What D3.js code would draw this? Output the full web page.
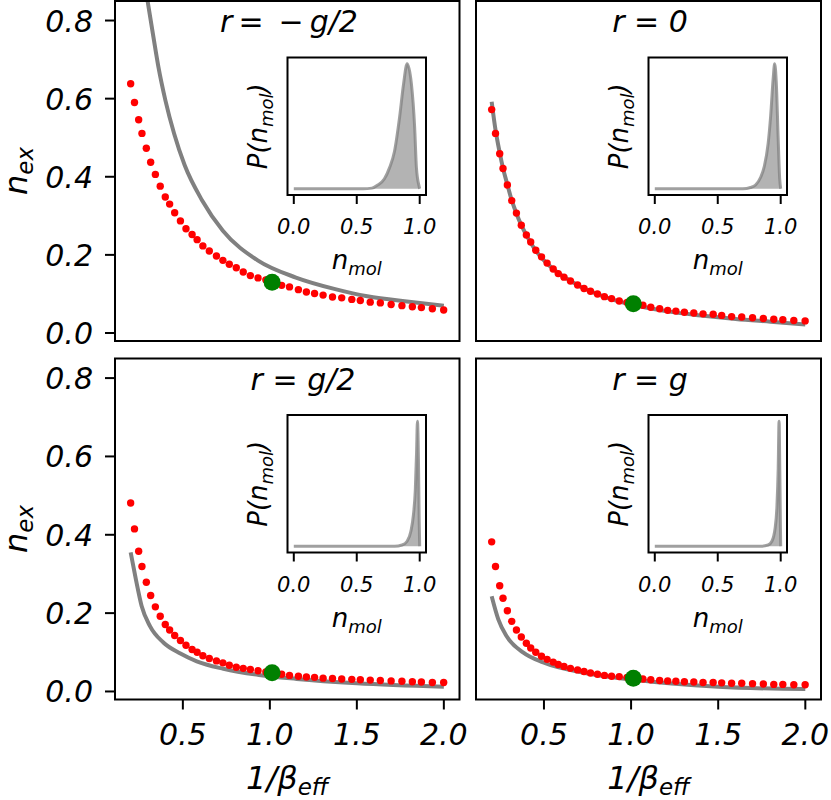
<!DOCTYPE html>
<html><head><meta charset="utf-8">
<script src="https://cdn.jsdelivr.net/npm/d3@7"></script>
<style>
body{margin:0;background:#fff}
svg{display:block}
text{font-family:"DejaVu Sans";font-style:italic;fill:#000}
</style>
</head><body><svg id="c" width="831" height="800"></svg>
<script>
// ---------------- data ----------------
const betaInv = [0.200,0.222,0.246,0.265,0.290,0.315,0.342,0.370,0.399,0.424,0.453,0.486,0.518,0.553,0.582,0.615,0.652,0.693,0.730,0.767,0.807,0.847,0.888,0.932,0.977,1.022,1.068,1.113,1.164,1.210,1.257,1.306,1.360,1.413,1.471,1.520,1.577,1.635,1.697,1.759,1.819,1.871,1.934,1.999];

const nexMinusHalf = [0.638,0.590,0.546,0.511,0.473,0.437,0.406,0.376,0.348,0.330,0.308,0.287,0.267,0.252,0.239,0.223,0.210,0.197,0.186,0.176,0.167,0.156,0.147,0.141,0.136,0.131,0.122,0.118,0.111,0.105,0.101,0.097,0.092,0.090,0.086,0.083,0.079,0.077,0.073,0.070,0.067,0.065,0.062,0.059];
const nexZero = [0.572,0.511,0.459,0.421,0.379,0.339,0.307,0.276,0.251,0.233,0.212,0.195,0.179,0.164,0.152,0.143,0.133,0.123,0.114,0.107,0.100,0.093,0.088,0.082,0.078,0.075,0.071,0.066,0.062,0.058,0.056,0.053,0.051,0.049,0.048,0.045,0.042,0.041,0.039,0.037,0.035,0.034,0.032,0.031];
const nexHalf = [0.481,0.415,0.358,0.319,0.279,0.245,0.216,0.192,0.171,0.157,0.143,0.130,0.118,0.107,0.100,0.091,0.084,0.078,0.073,0.067,0.062,0.059,0.056,0.053,0.050,0.047,0.044,0.041,0.039,0.037,0.036,0.034,0.033,0.032,0.031,0.030,0.029,0.028,0.027,0.026,0.025,0.024,0.023,0.023];
const nexG = [0.382,0.319,0.270,0.238,0.206,0.179,0.157,0.139,0.123,0.111,0.100,0.090,0.082,0.075,0.069,0.064,0.059,0.055,0.051,0.047,0.044,0.041,0.039,0.038,0.036,0.034,0.032,0.030,0.028,0.027,0.026,0.025,0.024,0.023,0.023,0.022,0.021,0.021,0.020,0.019,0.018,0.018,0.017,0.017];

const greenX = 1.013;
const greenY = [0.130, 0.075, 0.048, 0.034];

// theory curves (grey lines)
const thMinusHalfX = [0.29,0.33,0.36,0.40,0.45,0.51,0.61,0.73,0.93,1.15,1.37,1.56,1.80,2.00];
const thMinusHalfY = [0.87,0.76,0.68,0.595,0.51,0.43,0.34,0.262,0.186,0.142,0.113,0.094,0.080,0.070];
const thZeroX = [0.200,0.222,0.246,0.265,0.290,0.315,0.342,0.370,0.40,0.45,0.50,0.55,0.60,0.65,0.70,0.80,0.90,1.00,1.10,1.20,1.40,1.60,1.80,2.00];
const thZeroY = [0.592,0.520,0.462,0.422,0.380,0.340,0.306,0.276,0.250,0.213,0.186,0.165,0.148,0.134,0.121,0.101,0.085,0.073,0.064,0.056,0.045,0.036,0.029,0.022];
const thHalfX = [0.20,0.23,0.263,0.311,0.388,0.486,0.58,0.733,0.937,1.154,1.50,2.00];
const thHalfY = [0.355,0.286,0.218,0.167,0.125,0.097,0.077,0.058,0.042,0.032,0.021,0.012];
const thGX = [0.20,0.238,0.286,0.382,0.496,0.726,0.994,1.50,2.00];
const thGY = [0.243,0.184,0.141,0.099,0.074,0.048,0.031,0.012,0.006];

// inset distributions P(n_mol), normalised to peak
const distMinusHalfN = [0,0.55,0.62,0.667,0.72,0.76,0.80,0.84,0.872,0.90,0.934,0.96,0.974,0.995,1.0];
const distMinusHalfP = [0,0,0.005,0.03,0.08,0.167,0.30,0.57,0.84,1.0,0.84,0.49,0.167,0.02,0];
const distZeroN = [0,0.70,0.76,0.80,0.84,0.87,0.90,0.92,0.94,0.952,0.965,0.98,0.992,1.0];
const distZeroP = [0,0,0.01,0.03,0.09,0.18,0.36,0.58,0.88,1.0,0.85,0.40,0.08,0];
const distHalfN = [0,0.80,0.86,0.90,0.93,0.95,0.965,0.975,0.982,0.99,0.996,1.0];
const distHalfP = [0,0,0.01,0.04,0.12,0.25,0.45,0.75,1.0,0.7,0.2,0];
const distGN = [0,0.84,0.90,0.93,0.955,0.97,0.98,0.987,0.993,0.998,1.0];
const distGP = [0,0,0.01,0.04,0.14,0.32,0.62,1.0,0.6,0.15,0];

const titles = ["r\u2009=\u2002\u2212\u2009g/2", "r = 0", "r = g/2", "r = g"];
const xTicks = [0.5, 1.0, 1.5, 2.0];
const yTicks = [0.0, 0.2, 0.4, 0.6, 0.8];
const insetTicks = [0.0, 0.5, 1.0];

// ---------------- layout ----------------
const svg = d3.select("#c");
const panels = [
  {x0:115, x1:459.5, y0:1,     y1:341,   nex:nexMinusHalf, thX:thMinusHalfX, thY:thMinusHalfY, dN:distMinusHalfN, dP:distMinusHalfP, title:titles[0], tx:289, g:greenY[0], left:true,  bottom:false},
  {x0:476, x1:821,   y0:1,     y1:341,   nex:nexZero,      thX:thZeroX,      thY:thZeroY,      dN:distZeroN,      dP:distZeroP,      title:titles[1], tx:650, g:greenY[1], left:false, bottom:false},
  {x0:115, x1:459.5, y0:358.5, y1:699.5, nex:nexHalf,      thX:thHalfX,      thY:thHalfY,      dN:distHalfN,      dP:distHalfP,      title:titles[2], tx:303, g:greenY[2], left:true,  bottom:true},
  {x0:476, x1:821,   y0:358.5, y1:699.5, nex:nexG,         thX:thGX,         thY:thGY,         dN:distGN,         dP:distGP,         title:titles[3], tx:650, g:greenY[3], left:false, bottom:true}
];

const fmt = d3.format(".1f");

panels.forEach((p, i) => {
  const xs = d3.scaleLinear().domain([0.11, 2.09]).range([p.x0, p.x1]);
  const ys = d3.scaleLinear().domain([-0.0205, 0.85]).range([p.y1, p.y0]);
  const g = svg.append("g");

  const clipId = "clip" + i;
  svg.append("clipPath").attr("id", clipId).append("rect")
    .attr("x", p.x0).attr("y", p.y0).attr("width", p.x1 - p.x0).attr("height", p.y1 - p.y0);

  const plot = g.append("g").attr("clip-path", `url(#${clipId})`);
  const th = p.thX.map((x, k) => [x, p.thY[k]]);
  plot.append("path")
    .attr("d", d3.line().x(d => xs(d[0])).y(d => ys(d[1])).curve(d3.curveMonotoneX)(th))
    .attr("fill", "none").attr("stroke", "#808080").attr("stroke-width", 4);

  plot.selectAll("circle.r").data(betaInv.map((x, k) => [x, p.nex[k]])).enter()
    .append("circle").attr("class", "r")
    .attr("cx", d => xs(d[0])).attr("cy", d => ys(d[1])).attr("r", 3.7).attr("fill", "#ff0000");

  plot.append("circle").attr("cx", xs(greenX)).attr("cy", ys(p.g)).attr("r", 8.5).attr("fill", "#008000");

  // frame
  g.append("rect").attr("x", p.x0).attr("y", p.y0).attr("width", p.x1 - p.x0).attr("height", p.y1 - p.y0)
    .attr("fill", "none").attr("stroke", "#000").attr("stroke-width", 2);

  // title
  g.append("text").attr("x", p.tx).attr("y", p.y0 + 31).attr("text-anchor", "middle")
    .style("font-size", "30px").style("white-space", "pre").text(p.title);

  if (p.left) {
    yTicks.forEach(t => {
      g.append("line").attr("x1", p.x0 - 10).attr("x2", p.x0).attr("y1", ys(t)).attr("y2", ys(t))
        .attr("stroke", "#000").attr("stroke-width", 2);
      g.append("text").attr("x", p.x0 - 22).attr("y", ys(t) + 11).attr("text-anchor", "end")
        .style("font-size", "30px").text(fmt(t));
    });
    const cy = (p.y0 + p.y1) / 2;
    const yl = g.append("text").attr("transform", `translate(27,${cy}) rotate(-90)`)
      .attr("text-anchor", "middle").style("font-size", "32px");
    yl.append("tspan").text("n");
    yl.append("tspan").attr("dy", 6).style("font-size", "23px").text("ex");
  }
  if (p.bottom) {
    xTicks.forEach(t => {
      g.append("line").attr("x1", xs(t)).attr("x2", xs(t)).attr("y1", p.y1).attr("y2", p.y1 + 10)
        .attr("stroke", "#000").attr("stroke-width", 2);
      g.append("text").attr("x", xs(t)).attr("y", p.y1 + 45.5).attr("text-anchor", "middle")
        .style("font-size", "30px").text(fmt(t));
    });
    const xl = g.append("text").attr("x", (p.x0 + p.x1) / 2).attr("y", 789)
      .attr("text-anchor", "middle").style("font-size", "32px");
    xl.append("tspan").text("1/\u03B2");
    xl.append("tspan").attr("dy", 6).style("font-size", "23px").text("eff");
  }

  // inset
  const ix0 = p.x0 + 172.5, ix1 = ix0 + 138.5, iy0 = p.y0 + 56.5, iy1 = iy0 + 137.5;
  const ixs = d3.scaleLinear().domain([-0.05, 1.05]).range([ix0, ix1]);
  const iys = d3.scaleLinear().domain([-0.05, 1.05]).range([iy1, iy0]);
  const ig = g.append("g");
  ig.append("rect").attr("x", ix0).attr("y", iy0).attr("width", ix1 - ix0).attr("height", iy1 - iy0).attr("fill", "#fff");
  const dist = p.dN.map((n, k) => [n, p.dP[k]]);
  ig.append("path")
    .attr("d", d3.area().x(d => ixs(d[0])).y0(iys(0)).y1(d => iys(d[1])).curve(d3.curveMonotoneX)(dist))
    .attr("fill", "#808080").attr("fill-opacity", 0.6);
  ig.append("path")
    .attr("d", d3.line().x(d => ixs(d[0])).y(d => iys(d[1])).curve(d3.curveMonotoneX)(dist))
    .attr("fill", "none").attr("stroke", "#808080").attr("stroke-opacity", 0.75).attr("stroke-width", 3);
  ig.append("rect").attr("x", ix0).attr("y", iy0).attr("width", ix1 - ix0).attr("height", iy1 - iy0)
    .attr("fill", "none").attr("stroke", "#000").attr("stroke-width", 2);
  insetTicks.forEach(t => {
    ig.append("line").attr("x1", ixs(t)).attr("x2", ixs(t)).attr("y1", iy1).attr("y2", iy1 + 9)
      .attr("stroke", "#000").attr("stroke-width", 2);
    ig.append("text").attr("x", ixs(t)).attr("y", iy1 + 39).attr("text-anchor", "middle")
      .style("font-size", "21px").text(fmt(t));
  });
  const nl = ig.append("text").attr("x", (ix0 + ix1) / 2).attr("y", iy1 + 74)
    .attr("text-anchor", "middle").style("font-size", "26px");
  nl.append("tspan").text("n");
  nl.append("tspan").attr("dy", 6).style("font-size", "18px").text("mol");
  const pl = ig.append("text").attr("transform", `translate(${ix0 - 21},${(iy0 + iy1) / 2}) rotate(-90)`)
    .attr("text-anchor", "middle").style("font-size", "26px");
  pl.append("tspan").text("P(n");
  pl.append("tspan").attr("dy", 6).style("font-size", "18px").text("mol");
  pl.append("tspan").attr("dy", -6).text(")");
});
</script>
</body></html>
